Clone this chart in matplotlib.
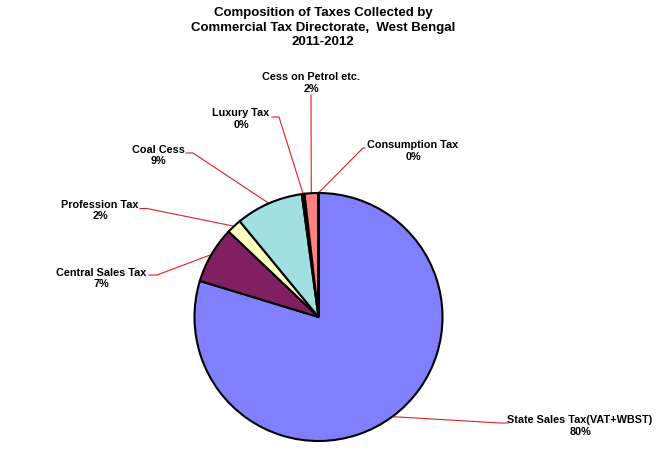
import matplotlib
matplotlib.use("Agg")
import matplotlib.pyplot as plt
import numpy as np

plt.rcParams['font.family'] = ['Liberation Sans', 'DejaVu Sans']

# slices, clockwise from 12 o'clock
labels = ['State Sales Tax(VAT+WBST)', 'Central Sales Tax', 'Profession Tax',
          'Coal Cess', 'Luxury Tax', 'Cess on Petrol etc.', 'Consumption Tax']
values = [79.7, 7.4, 1.95, 8.8, 0.35, 1.75, 0.05]
colors = ['#8080FF', '#802060', '#FFFFC0', '#A0E0E0', '#000000', '#FF8080', '#FFFFFF']

W, H = 671, 473
fig = plt.figure(figsize=(W / 100, H / 100), dpi=100)
ax = fig.add_axes([0, 0, 1, 1])

cx, cy, r = 318.5, 317.0, 124.0
# pie wants y up: draw at -cy then mirror into the pixel-like axis
wedges, _ = ax.pie(values, colors=colors, startangle=90, counterclock=False,
                   center=(cx, -cy), radius=r,
                   wedgeprops=dict(edgecolor='black', linewidth=1.5))
for w in wedges:
    w.set_transform(matplotlib.transforms.Affine2D().scale(1, -1) + ax.transData)
ax.set_xlim(0, W)
ax.set_ylim(H, 0)
ax.set_aspect('auto')
ax.axis('off')

# label text centre and leader line (x_start, x_elbow, y)
text_pos = [(580, 426), (101.5, 278.5), (100, 210.5), (158, 155.5),
            (241, 119), (311, 83), (413, 151)]
elbows = [(508, 500, 423), (149, 157, 275), (140, 147, 208.5), (186, 193, 153),
          (272, 279, 117), (311, 311, 95), (365, 363, 148)]

total = sum(values)
for w, lab, v, (tx, ty), (x0, x1, y0) in zip(wedges, labels, values, text_pos, elbows):
    mid = np.deg2rad((w.theta1 + w.theta2) / 2)
    ex = cx + r * np.cos(mid)
    ey = cy - r * np.sin(mid)
    ax.plot([x0, x1, ex], [y0, y0, ey], color='#E02020', lw=0.8, zorder=0)
    ax.text(tx, ty, '%s\n%d%%' % (lab, round(v / total * 100)), ha='center', va='center',
            fontsize=7.8, fontweight='bold', linespacing=1.15)

ax.text(323, 27.5, 'Composition of Taxes Collected by\nCommercial Tax Directorate,  West Bengal\n2011-2012',
        ha='center', va='center', fontsize=9.5, fontweight='bold', linespacing=1.25)

fig.savefig('out.png', dpi=100)
